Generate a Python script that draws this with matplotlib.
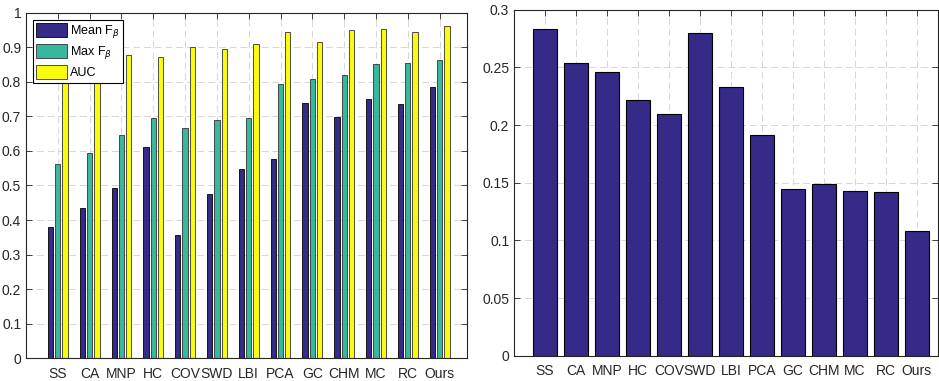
import numpy as np
import matplotlib
matplotlib.use("Agg")
import matplotlib.pyplot as plt

plt.rcParams['font.family'] = ['Liberation Sans', 'DejaVu Sans']

# data
methods = ["SS", "CA", "MNP", "HC", "COV", "SWD", "LBI", "PCA", "GC", "CHM", "MC", "RC", "Ours"]
mean_f = [0.379, 0.436, 0.494, 0.611, 0.357, 0.475, 0.547, 0.577, 0.740, 0.699, 0.751, 0.737, 0.784]
max_f = [0.561, 0.593, 0.646, 0.696, 0.667, 0.690, 0.696, 0.793, 0.807, 0.819, 0.852, 0.854, 0.863]
auc = [0.840, 0.850, 0.878, 0.872, 0.902, 0.895, 0.910, 0.945, 0.916, 0.951, 0.954, 0.943, 0.961]
mae = [0.2835, 0.2538, 0.2460, 0.2217, 0.2098, 0.2795, 0.2327, 0.1914, 0.1445, 0.1490, 0.1428, 0.1422, 0.1079]

left_ticks = [0, 0.1, 0.2, 0.3, 0.4, 0.5, 0.6, 0.7, 0.8, 0.9, 1]
left_ticklabels = ["0", "0.1", "0.2", "0.3", "0.4", "0.5", "0.6", "0.7", "0.8", "0.9", "1"]
right_ticks = [0, 0.05, 0.1, 0.15, 0.2, 0.25, 0.3]
right_ticklabels = ["0", "0.05", "0.1", "0.15", "0.2", "0.25", "0.3"]

c_mean = "#352a87"
c_max = "#37b89d"
c_auc = "#f9fb0e"
txt = "#262626"

fig = plt.figure(figsize=(9.39, 3.81), dpi=100)
ax1 = fig.add_axes([26/939, 1-358.3/381, (467-26)/939, (358.3-12.7)/381])
ax2 = fig.add_axes([514/939, 1-355.7/381, (938-514)/939, (355.7-9.7)/381])

x = np.arange(1, len(methods) + 1)


def style(ax):
    ax.set_axisbelow(True)
    ax.grid(True, linestyle=(0, (7, 4)), color="#d6d6d6", linewidth=0.7)
    ax.tick_params(direction="in", length=4, top=True, right=True, labelsize=10,
                   colors=txt, width=0.6)
    ax.tick_params(axis="x", pad=6)
    for s in ax.spines.values():
        s.set_color(txt)
        s.set_linewidth(0.8)
    ax.set_xticks(x)
    ax.set_xticklabels(methods)


# left: grouped bars
off = 0.228
w = 0.165
ax1.bar(x - off, mean_f, w, color=c_mean, edgecolor="black", linewidth=0.6, label="Mean F$_\\beta$")
ax1.bar(x, max_f, w, color=c_max, edgecolor="#333333", linewidth=0.6, label="Max F$_\\beta$")
ax1.bar(x + off, auc, w, color=c_auc, edgecolor="#333333", linewidth=0.6, label="AUC")
style(ax1)
ax1.set_xlim(0, 13.86)
ax1.set_ylim(0, 1)
ax1.set_yticks(left_ticks)
ax1.set_yticklabels(left_ticklabels)

leg = ax1.legend(loc="upper left", bbox_to_anchor=(33/939, 1-20/381),
                 bbox_transform=fig.transFigure, borderaxespad=0, fontsize=9,
                 handlelength=2.5, handleheight=1.35, handletextpad=0.2,
                 labelspacing=0.3, borderpad=0.25, fancybox=False, framealpha=1)
leg.get_frame().set_edgecolor("black")
leg.get_frame().set_linewidth(0.8)

# right: single bars
ax2.bar(x, mae, 0.8, color=c_mean, edgecolor="black", linewidth=0.8)
style(ax2)
ax2.set_xlim(0, 13.68)
ax2.set_ylim(0, 0.3)
ax2.set_yticks(right_ticks)
ax2.set_yticklabels(right_ticklabels)

fig.savefig("out.png", dpi=100)
